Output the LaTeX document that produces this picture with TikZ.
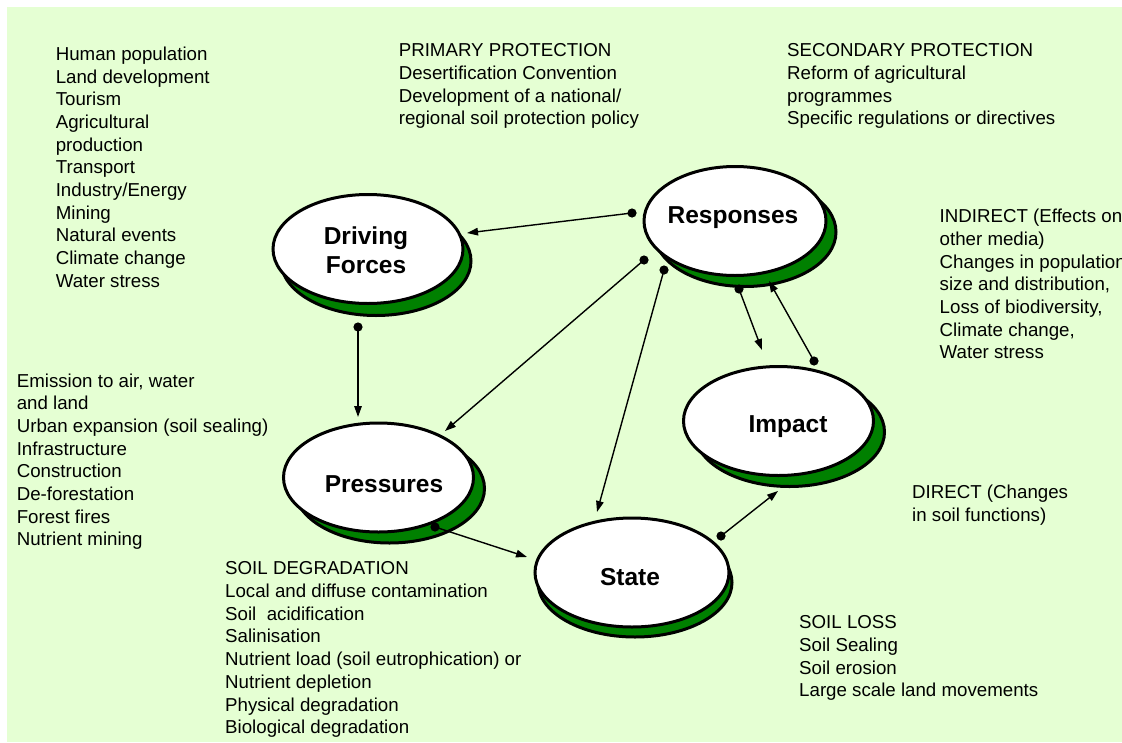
\documentclass[tikz,border=0pt]{standalone}
\usepackage{fontspec}
\setmainfont{Liberation Sans}
\usetikzlibrary{shapes.geometric,shadows,arrows.meta,calc}
\definecolor{bgc}{RGB}{229,255,211}
\definecolor{shgreen}{RGB}{0,128,0}
\begin{document}
\begin{tikzpicture}[x=1pt,y=-1pt,
  ell/.style={ellipse, draw=black, line width=3pt, fill=white, minimum width=190pt, minimum height=109pt, inner sep=0pt},
  sh/.style 2 args={general shadow={fill=shgreen, draw=black, line width=3pt, shadow xshift=#1pt, shadow yshift=-#2pt}},
  lbl/.style={font=\bfseries\fontsize{24.5}{29}\selectfont, align=center, inner sep=0pt},
  txt/.style={anchor=north west, align=left, inner sep=0pt, font=\fontsize{18.7}{22.7}\selectfont},
  conn/.style={-{Triangle[length=11pt,width=7.5pt]}, line width=1.4pt},
  dot/.style={fill=black}]
\useasboundingbox (0,0) rectangle (1122,742);
\begin{scope}
\clip (0,0) rectangle (1122,742);
\fill[bgc] (7,7) rectangle (1122,742);

% ellipses
\node[ell, sh={8}{12}, label={[lbl,xshift=-2pt,yshift=-1pt]center:{Driving\\Forces}}] (df) at (368,249) {};
\node[ell, minimum width=182pt, sh={10}{11}, label={[lbl,xshift=-2pt,yshift=3pt]center:Responses}] (rs) at (735,221) {};
\node[ell, sh={11}{11}, label={[lbl,xshift=9.5pt,yshift=-6pt]center:Impact}] (im) at (778.5,421) {};
\node[ell, sh={11}{11}, label={[lbl,xshift=5.5pt,yshift=-7pt]center:Pressures}] (pr) at (378.5,477.5) {};
\node[ell, minimum width=194pt, sh={3}{10}, label={[lbl,xshift=-2pt,yshift=-5pt]center:State}] (st) at (632,572.5) {};

% text blocks
\node[txt] (tdf) at (55.6,46.6) {Human population\\Land development\\Tourism\\Agricultural\\production\\Transport\\Industry/Energy\\Mining\\Natural events\\Climate change\\Water stress};
\node[txt] (tpp) at (398.6,43.6) {PRIMARY PROTECTION\\Desertification Convention\\Development of a national/\\regional soil protection policy};
\node[txt] (tsp) at (787,43.6) {SECONDARY PROTECTION\\Reform of agricultural\\programmes\\Specific regulations or directives};
\node[txt] (tind) at (939.5,208.9) {INDIRECT (Effects on\\other media)\\Changes in population\\size and distribution,\\Loss of biodiversity,\\Climate change,\\Water stress};
\node[txt] (tpr) at (16.6,373.3) {Emission to air, water\\and land\\Urban expansion (soil sealing)\\Infrastructure\\Construction\\De-forestation\\Forest fires\\Nutrient mining};
\node[txt] (tsd) at (225,561.6) {SOIL DEGRADATION\\Local and diffuse contamination\\Soil\ \ acidification\\Salinisation\\Nutrient load (soil eutrophication) or\\Nutrient depletion\\Physical degradation\\Biological degradation};
\node[txt] (tdir) at (912,484.6) {DIRECT (Changes\\in soil functions)};
\node[txt] (tsl) at (799,615.6) {SOIL LOSS\\Soil Sealing\\Soil erosion\\Large scale land movements};

% connector end points
\coordinate (a1) at ($(rs)+(-103,-8)$);   \coordinate (b1) at ($(df)+(99,-16)$);
\coordinate (a2) at ($(df)+(-10,78)$);    \coordinate (b2) at ($(pr)+(-20.5,-60.5)$);
\coordinate (a3) at ($(rs)+(-91,39)$);    \coordinate (b3) at ($(pr)+(66.5,-46.5)$);
\coordinate (a4) at ($(rs)+(-71,49)$);    \coordinate (b4) at ($(st)+(-35,-60.5)$);
\coordinate (a5) at ($(rs)+(4,68)$);      \coordinate (b5) at ($(im)+(-16.5,-71)$);
\coordinate (a6) at ($(im)+(35.5,-60)$);  \coordinate (b6) at ($(rs)+(34,60)$);
\coordinate (a7) at ($(pr)+(56.5,49.5)$); \coordinate (b7) at ($(st)+(-105,-15.5)$);
\coordinate (a8) at ($(st)+(89,-36.5)$);  \coordinate (b8) at ($(im)+(-0.5,70)$);

\foreach \i in {1,...,8}{
  \draw[conn] (a\i) -- (b\i);
  \fill[dot] (a\i) circle (4.6);
}
\end{scope}
\end{tikzpicture}
\end{document}
